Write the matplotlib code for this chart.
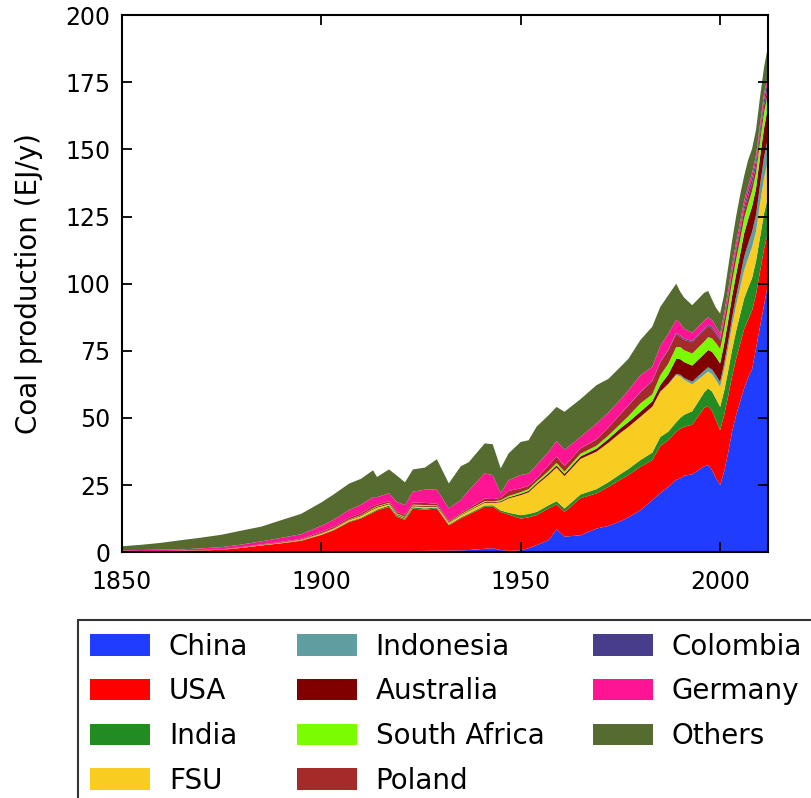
import matplotlib
matplotlib.use("Agg")
import matplotlib.pyplot as plt
from matplotlib.patches import Patch

# coal production by country, EJ/y
years = [1850, 1855, 1860, 1865, 1870, 1875, 1880, 1885, 1890, 1895,
         1900, 1903, 1907, 1910, 1913, 1914, 1917, 1919, 1921, 1923,
         1926, 1929, 1932, 1935, 1937, 1941, 1943, 1945, 1947, 1950,
         1952, 1954, 1957, 1959, 1961, 1965, 1969, 1972, 1975, 1977,
         1980, 1983, 1985, 1987, 1989, 1990, 1991, 1993, 1996, 1997,
         1998, 1999, 2000, 2001, 2002, 2003, 2004, 2005, 2006, 2007,
         2008, 2009, 2010, 2011, 2012]

china = [0, 0, 0, 0, 0, 0, 0, 0, 0, 0.05,
         0.1, 0.15, 0.2, 0.25, 0.3, 0.3, 0.3, 0.35, 0.4, 0.45,
         0.5, 0.55, 0.6, 0.7, 0.8, 1.3, 1.5, 0.8, 0.5, 0.7,
         1.5, 2.6, 4.5, 8.5, 5.8, 6.3, 8.8, 9.8, 11.5, 13.0,
         15.6, 19.4, 22.0, 24.3, 27.0, 27.5, 28.5, 29.0, 32.0, 32.5,
         30.5, 27.5, 25.0, 30, 37, 45, 51, 56, 61, 65,
         68, 76, 84, 92, 100]
usa = [0.2, 0.25, 0.3, 0.45, 0.65, 0.9, 1.6, 2.5, 3.3, 4.2,
       6.3, 7.9, 11.0, 12.3, 14.4, 15.2, 16.6, 12.8, 11.6, 15.8,
       15.3, 15.75, 9.4, 11.9, 13.2, 15.6, 15.5, 14.2, 13.5, 11.8,
       11.5, 11.2, 11.8, 9.3, 9.2, 13.8, 13.1, 14.5, 15.5, 15.7,
       16.2, 14.9, 17.5, 17.4, 17.8, 18.5, 18.2, 18.5, 21.7, 22.0,
       22.0, 21.5, 20.4, 21, 21, 20.5, 21, 21.5, 22, 21.5,
       22, 20, 20.5, 21, 19]
india = [0, 0, 0, 0.01, 0.01, 0.02, 0.02, 0.05, 0.06, 0.1,
         0.15, 0.18, 0.25, 0.3, 0.4, 0.4, 0.45, 0.5, 0.45, 0.5,
         0.5, 0.35, 0.3, 0.35, 0.4, 0.5, 0.5, 0.6, 0.7, 1.3,
         1.25, 1.2, 1.2, 1.2, 1.3, 1.4, 1.6, 1.8, 2.1, 2.3,
         2.5, 2.8, 3.4, 3.2, 3.6, 4.0, 4.5, 5.0, 5.8, 6.5,
         7.3, 8.0, 8.7, 9.0, 9.4, 9.9, 10.4, 10.9, 11.4, 11.9,
         12.1, 12.5, 12.8, 13.1, 13.3]
fsu = [0, 0.02, 0.03, 0.04, 0.05, 0.05, 0.08, 0.12, 0.15, 0.2,
       0.35, 0.4, 0.5, 0.6, 0.8, 0.7, 0.5, 0.2, 0.2, 0.3,
       0.6, 0.3, 0.5, 0.7, 0.9, 1.0, 0.8, 3.0, 5.3, 7.4,
       8.0, 10.0, 11.2, 12.5, 12.0, 13.2, 13.9, 14.6, 15.3, 15.6,
       16.0, 17.0, 16.8, 17.6, 17.5, 15.5, 13.0, 10.0, 6.6, 6.3,
       6.5, 7.0, 7.5, 8.0, 8.5, 9.0, 9.5, 10.0, 10.5, 11.0,
       11.5, 11.0, 12.5, 13.0, 13.7]
indonesia = [0, 0, 0, 0, 0, 0, 0, 0, 0, 0,
             0, 0, 0, 0, 0.01, 0.01, 0.02, 0.02, 0.02, 0.02,
             0.02, 0.02, 0.02, 0.02, 0.02, 0.02, 0.02, 0.02, 0.03, 0.05,
             0.05, 0.05, 0.05, 0.05, 0.05, 0.05, 0.05, 0.05, 0.05, 0.05,
             0.1, 0.1, 0.15, 0.2, 0.5, 0.6, 0.7, 1.0, 1.5, 1.6,
             1.7, 1.8, 1.8, 2.2, 2.6, 3.0, 3.4, 4.0, 5.0, 5.5,
             5.7, 6.2, 7.0, 8.0, 8.5]
australia = [0, 0, 0.01, 0.02, 0.03, 0.03, 0.04, 0.06, 0.08, 0.1,
             0.15, 0.18, 0.2, 0.22, 0.3, 0.3, 0.3, 0.3, 0.3, 0.35,
             0.35, 0.25, 0.2, 0.25, 0.25, 0.3, 0.3, 0.35, 0.4, 0.5,
             0.55, 0.6, 0.7, 0.8, 0.8, 0.9, 1.1, 1.4, 1.7, 1.8,
             1.9, 2.0, 2.4, 3.5, 5.6, 5.8, 5.9, 6.0, 6.2, 6.4,
             6.6, 6.8, 6.9, 7.3, 7.6, 7.9, 8.1, 8.4, 8.7, 9.0,
             9.4, 9.8, 10.3, 10.8, 11.5]
south_africa = [0, 0, 0, 0, 0, 0, 0, 0, 0, 0.05,
                0.05, 0.07, 0.1, 0.12, 0.2, 0.2, 0.25, 0.25, 0.25, 0.3,
                0.3, 0.2, 0.15, 0.2, 0.25, 0.3, 0.3, 0.4, 0.5, 0.6,
                0.65, 0.7, 0.8, 0.9, 0.9, 1.0, 1.1, 1.3, 1.6, 2.2,
                3.1, 2.6, 3.6, 4.0, 4.4, 4.5, 4.4, 4.5, 4.6, 4.8,
                5.0, 5.2, 5.4, 5.4, 5.3, 5.5, 5.5, 5.5, 5.6, 5.7,
                5.8, 5.8, 5.7, 5.7, 5.0]
poland = [0.05, 0.06, 0.07, 0.08, 0.1, 0.1, 0.15, 0.2, 0.25, 0.3,
          0.45, 0.5, 0.6, 0.65, 0.8, 0.6, 0.6, 0.6, 0.7, 0.8,
          0.8, 0.6, 0.5, 0.5, 0.6, 0.9, 0.9, 0.8, 1.9, 1.4,
          1.2, 1.05, 2.1, 2.4, 2.0, 2.0, 2.3, 3.0, 3.6, 3.9,
          4.1, 4.9, 4.8, 5.0, 4.8, 3.8, 3.8, 4.2, 4.2, 4.0,
          3.7, 3.4, 3.2, 3.2, 3.2, 3.2, 3.1, 3.1, 3.0, 2.9,
          2.8, 2.7, 2.7, 2.7, 2.5]
colombia = [0, 0, 0, 0, 0, 0, 0, 0, 0, 0,
            0, 0, 0, 0, 0, 0, 0, 0, 0, 0,
            0, 0, 0, 0, 0, 0, 0, 0, 0, 0.05,
            0.05, 0.05, 0.05, 0.05, 0.05, 0.05, 0.1, 0.1, 0.1, 0.15,
            0.2, 0.2, 0.3, 0.3, 0.4, 0.5, 0.5, 0.5, 0.6, 0.6,
            0.7, 0.7, 0.7, 0.8, 0.9, 1.0, 1.2, 1.4, 1.5, 1.7,
            1.9, 2.0, 2.1, 2.3, 2.5]
germany = [0.45, 0.5, 0.55, 0.45, 0.6, 0.8, 0.95, 1.1, 1.5, 1.7,
           2.25, 2.6, 2.9, 3.3, 3.3, 2.8, 2.9, 3.7, 3.6, 4.0,
           4.95, 5.3, 4.65, 4.8, 6.6, 9.4, 8.9, 1.75, 4.0, 4.95,
           4.55, 5.0, 5.0, 5.7, 6.0, 4.2, 5.85, 5.5, 5.3, 5.6,
           6.2, 5.1, 5.9, 5.9, 5.0, 4.5, 3.8, 3.0, 3.1, 2.8,
           2.4, 2.0, 1.8, 2.0, 2.1, 2.2, 2.2, 2.1, 2.0, 2.1,
           2.0, 1.9, 1.9, 2.0, 2.0]
others = [1.5, 1.95, 2.55, 3.45, 4.0, 4.6, 5.2, 5.5, 6.6, 7.6,
          8.7, 9.4, 9.8, 9.6, 10.0, 7.5, 8.9, 9.8, 8.5, 8.3,
          8.2, 11.3, 9.3, 12.6, 10.5, 11.2, 11.5, 9.3, 10.0, 12.3,
          12.4, 14.3, 13.6, 12.7, 14.2, 14.1, 14.3, 12.5, 12.25, 11.7,
          13.1, 15.0, 14.5, 14.3, 13.4, 11.8, 11.5, 10.3, 10.3, 9.8,
          7.6, 7.0, 7.5, 7.1, 8.4, 8.8, 9.6, 10.1, 9.3, 9.7,
          9.0, 9.5, 10.0, 10.0, 10.5]

labels = ['China', 'USA', 'India', 'FSU', 'Indonesia', 'Australia',
          'South Africa', 'Poland', 'Colombia', 'Germany', 'Others']
colors = ['#1f3cff', '#ff0000', '#228b22', '#f9cc22', '#5f9ea0', '#800000',
          '#7cfc00', '#a52a2a', '#483d8b', '#ff1493', '#556b2f']
series = [china, usa, india, fsu, indonesia, australia,
          south_africa, poland, colombia, germany, others]

fig = plt.figure(figsize=(8.11, 7.98), dpi=100)
ax = fig.add_axes([0.150, 0.308, 0.797, 0.673])

ax.stackplot(years, *series, colors=colors, linewidth=0)

ax.set_xlim(1850, 2012)
ax.set_ylim(0, 200)
ax.set_xticks([1850, 1900, 1950, 2000])
ax.set_yticks(range(0, 201, 25))
ax.tick_params(direction='in', length=7, width=1.3, labelsize=17,
               top=True, right=True)
ax.tick_params(axis='x', pad=13)
ax.tick_params(axis='y', pad=8)
for s in ax.spines.values():
    s.set_linewidth(1.5)
ax.set_ylabel('Coal production (EJ/y)', fontsize=20, labelpad=16)

# legend sits below the axes and runs off the figure edge like the original
handles = [Patch(facecolor=c, edgecolor='none') for c in colors]
leg = fig.legend(handles, labels, loc='upper left',
                 bbox_to_anchor=(0.096, 0.223), ncol=3, fontsize=20,
                 frameon=True, fancybox=False, edgecolor='black',
                 handlelength=2.15, handleheight=0.8, handletextpad=0.68,
                 columnspacing=1.75, labelspacing=0.6, borderpad=0.45,
                 borderaxespad=0)
leg.get_frame().set_linewidth(1.5)

fig.savefig('out.png', dpi=100)
